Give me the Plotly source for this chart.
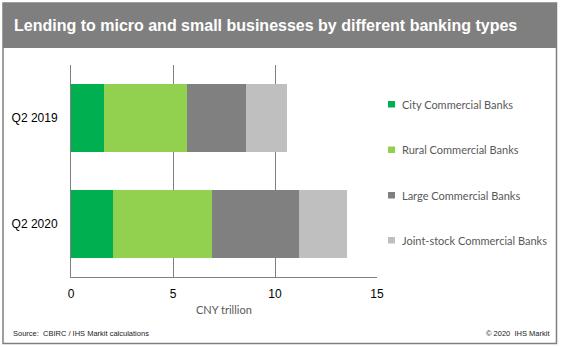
import plotly.graph_objects as go

# Loans outstanding to micro and small businesses, CNY trillion
periods = ["Q2 2019", "Q2 2020"]
city_banks = [1.60, 2.04]
rural_banks = [4.07, 4.86]
large_banks = [2.89, 4.26]
joint_stock_banks = [2.01, 2.35]

series_names = [
    "City Commercial Banks",
    "Rural Commercial Banks",
    "Large Commercial Banks",
    "Joint-stock Commercial Banks",
]
series_values = [city_banks, rural_banks, large_banks, joint_stock_banks]
series_colors = ["#00B050", "#92D050", "#808080", "#BFBFBF"]

x_ticks = [0, 5, 10, 15]

title_text = "Lending to micro and small businesses by different banking types"
axis_title = "CNY trillion"
source_text = "Source:  CBIRC / IHS Markit calculations"
copyright_text = "© 2020  IHS Markit"

W, H = 562, 347
L, R, T, B = 71, 185, 65, 70
PW, PH = W - L - R, H - T - B


def fx(px):
    """Pixel x -> paper x."""
    return (px - L) / PW


def fy(py):
    """Pixel y -> paper y."""
    return (H - B - py) / PH


fig = go.Figure()
for name, vals, col in zip(series_names, series_values, series_colors):
    fig.add_trace(
        go.Bar(
            y=periods,
            x=vals,
            name=name,
            orientation="h",
            marker=dict(color=col, line=dict(width=0)),
            showlegend=False,
            hoverinfo="x+name",
        )
    )

shapes = [
    # outer frame
    dict(type="rect", xref="paper", yref="paper",
         x0=fx(3), x1=fx(556.5), y0=fy(343.5), y1=fy(3),
         line=dict(color="#808080", width=1.5), fillcolor="rgba(0,0,0,0)",
         layer="above"),
    # title band
    dict(type="rect", xref="paper", yref="paper",
         x0=fx(3), x1=fx(556.5), y0=fy(48), y1=fy(3),
         line=dict(width=0), fillcolor="#7F7F7F", layer="above"),
]

annotations = [
    dict(text=f"<b>{title_text}</b>", xref="paper", yref="paper",
         x=fx(12), y=fy(25.5), xanchor="left", yanchor="middle",
         showarrow=False,
         font=dict(family="Liberation Sans, Arial", size=16, color="white")),
    dict(text=axis_title, xref="paper", yref="paper",
         x=fx(224), y=fy(309), xanchor="center", yanchor="middle",
         showarrow=False,
         font=dict(family="Lato, Open Sans", size=11, color="#595959")),
    dict(text=source_text, xref="paper", yref="paper",
         x=fx(11), y=fy(333), xanchor="left", yanchor="middle",
         showarrow=False,
         font=dict(family="Liberation Sans, Arial", size=7.5, color="#222222")),
    dict(text=copyright_text, xref="paper", yref="paper",
         x=fx(551.5), y=fy(333), xanchor="right", yanchor="middle",
         showarrow=False,
         font=dict(family="Liberation Sans, Arial", size=7.5, color="#222222")),
]

# legend entries: small square swatch followed by the series name
legend_rows = [104, 149.5, 195, 240]
for name, col, ry in zip(series_names, series_colors, legend_rows):
    shapes.append(
        dict(type="rect", xref="paper", yref="paper",
             x0=fx(388), x1=fx(395), y0=fy(ry + 3.5), y1=fy(ry - 3),
             line=dict(width=0), fillcolor=col, layer="above"))
    annotations.append(
        dict(text=name, xref="paper", yref="paper",
             x=fx(399.5), y=fy(ry), xanchor="left", yanchor="middle",
             showarrow=False,
             font=dict(family="Lato, Open Sans", size=11, color="#595959")))

fig.update_layout(
    width=W,
    height=H,
    barmode="stack",
    bargap=0.36,
    margin=dict(l=L, r=R, t=T, b=B, pad=0),
    paper_bgcolor="white",
    plot_bgcolor="white",
    shapes=shapes,
    annotations=annotations,
    xaxis=dict(
        range=[0, 15],
        tickvals=x_ticks,
        ticktext=[str(v) for v in x_ticks],
        showgrid=True,
        gridcolor="#808080",
        gridwidth=1,
        zeroline=False,
        showline=True,
        linecolor="#808080",
        linewidth=1,
        ticks="",
        ticklabelstandoff=6,
        tickfont=dict(family="Liberation Sans, Arial", size=12, color="#000000"),
        fixedrange=True,
    ),
    yaxis=dict(
        autorange="reversed",
        showgrid=False,
        zeroline=False,
        showline=True,
        linecolor="#808080",
        linewidth=1,
        ticks="",
        ticklabelstandoff=10,
        tickfont=dict(family="Liberation Sans, Arial", size=12, color="#000000"),
        fixedrange=True,
    ),
)

fig.write_html("out.html")
